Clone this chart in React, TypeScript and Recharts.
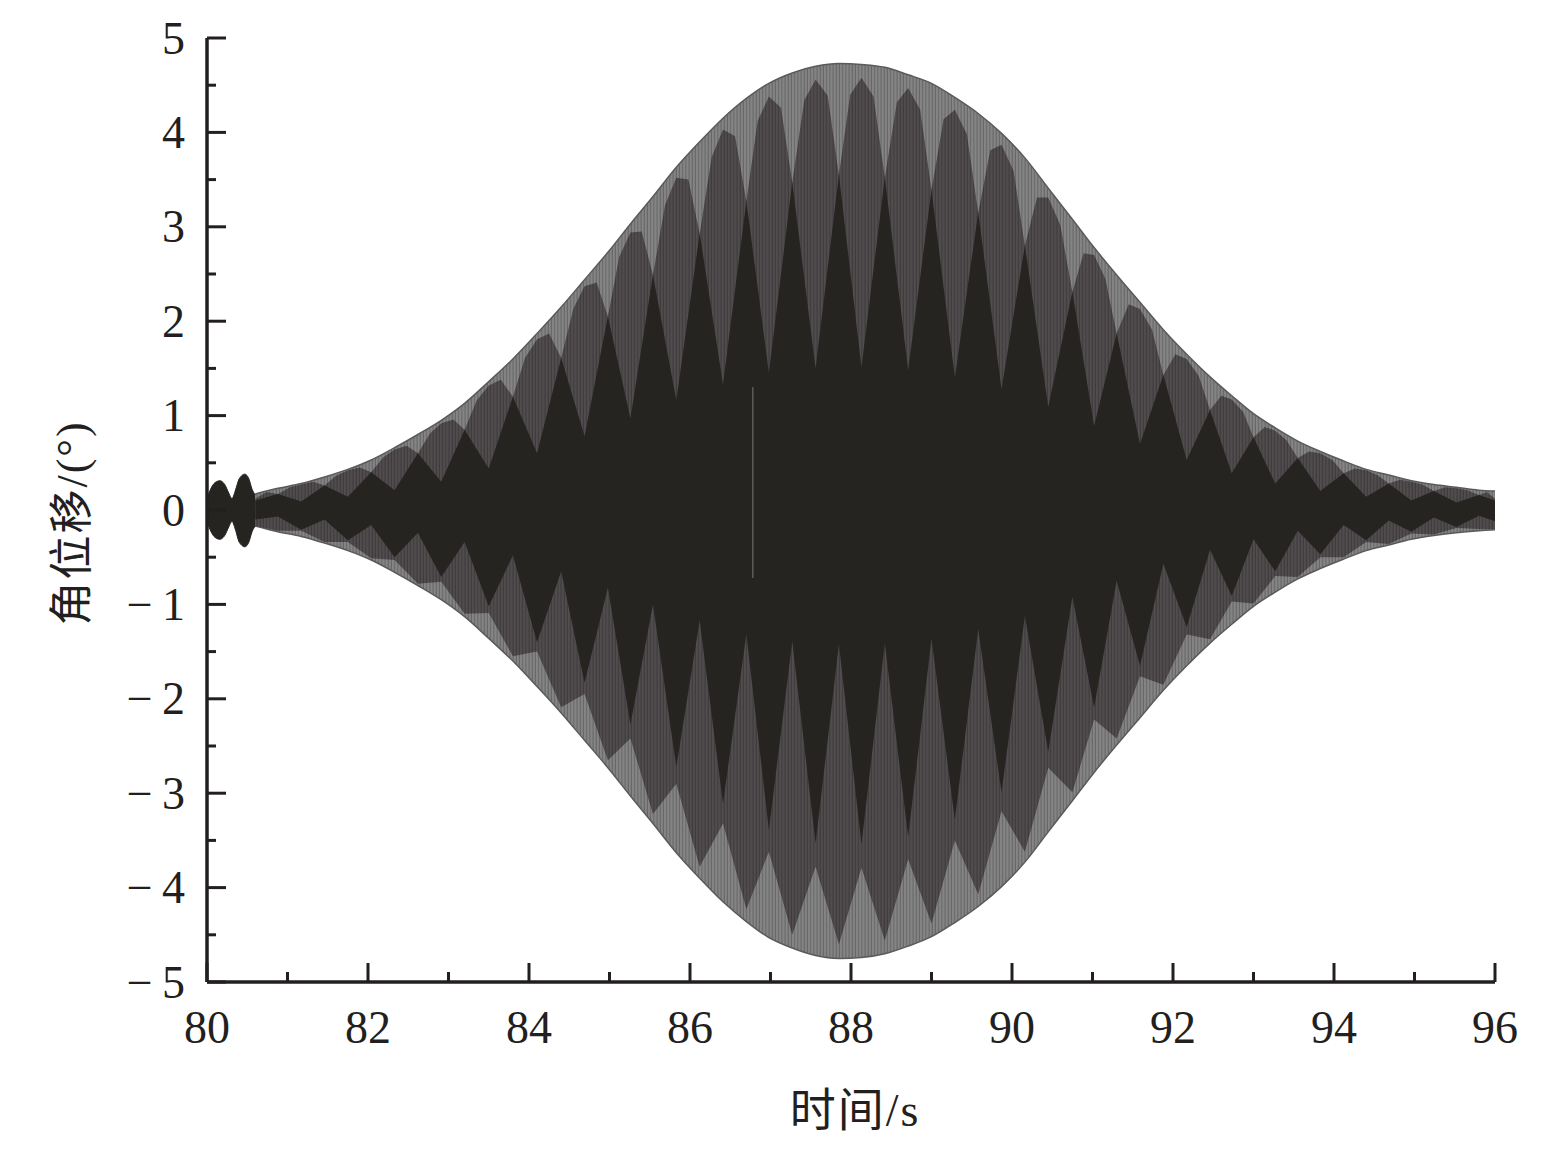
import React from "react";
import {
  ComposedChart,
  Area,
  XAxis,
  YAxis,
  ReferenceLine,
} from "recharts";

// start lobes (80 - 80.6 s), fully dark
const lobeTime = [80.0, 80.05, 80.1, 80.16, 80.22, 80.27, 80.31, 80.35, 80.4, 80.47, 80.52, 80.56, 80.6];
const lobeTop = [0.12, 0.23, 0.29, 0.31, 0.27, 0.18, 0.12, 0.2, 0.33, 0.38, 0.33, 0.22, 0.16];
const lobeBot = [-0.12, -0.23, -0.29, -0.31, -0.27, -0.18, -0.12, -0.2, -0.34, -0.39, -0.34, -0.23, -0.17];

// zigzag vertices (peaks / valleys of the beat pattern)
const vertexTime = [
  80.6, 80.88, 81.17, 81.46, 81.75, 82.04, 82.33, 82.62, 82.91, 83.2, 83.5, 83.8, 84.1, 84.4,
  84.69, 84.98, 85.26, 85.54, 85.83, 86.12, 86.41, 86.7, 86.98, 87.27, 87.56, 87.85, 88.13,
  88.42, 88.71, 89.0, 89.29, 89.58, 89.87, 90.16, 90.45, 90.75, 91.02, 91.3, 91.59, 91.88,
  92.17, 92.46, 92.73, 93.0, 93.27, 93.55, 93.83, 94.12, 94.4, 94.68, 94.96, 95.24, 95.52,
  95.8, 96.0,
];
const envTop = [
  0.17, 0.23, 0.28, 0.35, 0.43, 0.53, 0.66, 0.8, 0.95, 1.13, 1.36, 1.6, 1.87, 2.15, 2.44, 2.73,
  3.03, 3.32, 3.63, 3.9, 4.15, 4.36, 4.52, 4.63, 4.7, 4.73, 4.72, 4.69, 4.61, 4.52, 4.37, 4.2,
  3.99, 3.73, 3.41, 3.08, 2.78, 2.49, 2.2, 1.91, 1.65, 1.41, 1.21, 1.02, 0.87, 0.73, 0.62,
  0.52, 0.43, 0.37, 0.31, 0.27, 0.24, 0.21, 0.2,
];
const envBot = [
  -0.17, -0.23, -0.28, -0.35, -0.43, -0.53, -0.66, -0.8, -0.95, -1.13, -1.36, -1.6, -1.87,
  -2.15, -2.44, -2.73, -3.03, -3.32, -3.63, -3.9, -4.15, -4.36, -4.53, -4.64, -4.72, -4.75,
  -4.74, -4.7, -4.62, -4.52, -4.37, -4.2, -3.99, -3.73, -3.41, -3.08, -2.78, -2.49, -2.2,
  -1.91, -1.65, -1.41, -1.21, -1.02, -0.87, -0.73, -0.62, -0.52, -0.43, -0.37, -0.31, -0.27,
  -0.24, -0.22, -0.21,
];
const midBot = [
  -0.17, -0.22, -0.22, -0.34, -0.34, -0.51, -0.53, -0.78, -0.76, -1.1, -1.09, -1.55, -1.5,
  -2.09, -1.95, -2.65, -2.42, -3.22, -2.9, -3.78, -3.32, -4.23, -3.62, -4.5, -3.78, -4.6,
  -3.79, -4.56, -3.7, -4.38, -3.5, -4.07, -3.19, -3.62, -2.73, -2.99, -2.22, -2.42, -1.76,
  -1.85, -1.32, -1.37, -0.97, -0.99, -0.7, -0.71, -0.5, -0.5, -0.34, -0.36, -0.25, -0.26,
  -0.19, -0.2, -0.2,
];
const coreTop = [
  0.1, 0.17, 0.09, 0.26, 0.14, 0.4, 0.21, 0.6, 0.3, 0.85, 0.44, 1.2, 0.6, 1.61, 0.78, 2.05,
  0.97, 2.49, 1.16, 2.93, 1.33, 3.27, 1.45, 3.47, 1.5, 3.55, 1.51, 3.52, 1.48, 3.39, 1.4, 3.15,
  1.28, 2.8, 1.09, 2.31, 0.89, 1.87, 0.7, 1.43, 0.53, 1.06, 0.39, 0.77, 0.28, 0.55, 0.2, 0.39,
  0.14, 0.28, 0.1, 0.2, 0.08, 0.16, 0.1,
];
const coreBot = [
  -0.1, -0.07, -0.21, -0.1, -0.32, -0.16, -0.5, -0.24, -0.71, -0.34, -1.02, -0.48, -1.4,
  -0.65, -1.83, -0.82, -2.27, -1.0, -2.72, -1.17, -3.11, -1.31, -3.39, -1.39, -3.53, -1.42,
  -3.54, -1.41, -3.46, -1.36, -3.28, -1.26, -2.99, -1.12, -2.56, -0.92, -2.09, -0.75, -1.65,
  -0.57, -1.24, -0.42, -0.91, -0.31, -0.65, -0.22, -0.47, -0.16, -0.32, -0.11, -0.23, -0.08,
  -0.18, -0.06, -0.12,
];

// upper edge of the mid-grey spindles, sampled finer (narrow light "icicles")
const midTopTime = [
  80.6, 80.74, 80.88, 81.03, 81.17, 81.32, 81.46, 81.6, 81.75, 81.9, 82.04, 82.19, 82.33,
  82.48, 82.62, 82.77, 82.91, 83.06, 83.2, 83.35, 83.5, 83.65, 83.8, 83.95, 84.1, 84.25, 84.4,
  84.55, 84.69, 84.84, 84.98, 85.12, 85.26, 85.4, 85.54, 85.69, 85.83, 85.98, 86.12, 86.27,
  86.41, 86.56, 86.7, 86.84, 86.98, 87.13, 87.27, 87.42, 87.56, 87.71, 87.85, 87.99, 88.13,
  88.28, 88.42, 88.57, 88.71, 88.86, 89.0, 89.15, 89.29, 89.44, 89.58, 89.73, 89.87, 90.02,
  90.16, 90.31, 90.45, 90.6, 90.75, 90.89, 91.02, 91.16, 91.3, 91.45, 91.59, 91.74, 91.88,
  92.03, 92.17, 92.32, 92.46, 92.6, 92.73, 92.87, 93.0, 93.14, 93.27, 93.41, 93.55, 93.69,
  93.83, 93.98, 94.12, 94.26, 94.4, 94.54, 94.68, 94.82, 94.96, 95.1, 95.24, 95.38, 95.52,
  95.66, 95.8, 95.9, 96.0,
];
const midTopVal = [
  0.12, 0.19, 0.17, 0.24, 0.27, 0.3, 0.26, 0.36, 0.42, 0.45, 0.4, 0.56, 0.64, 0.68, 0.6, 0.81,
  0.92, 0.96, 0.85, 1.16, 1.32, 1.38, 1.2, 1.61, 1.81, 1.87, 1.61, 2.13, 2.37, 2.41, 2.05, 2.68,
  2.94, 2.95, 2.49, 3.23, 3.52, 3.5, 2.93, 3.74, 4.03, 3.96, 3.27, 4.12, 4.38, 4.26, 3.47, 4.34,
  4.56, 4.39, 3.55, 4.4, 4.58, 4.38, 3.52, 4.32, 4.47, 4.24, 3.39, 4.14, 4.24, 3.98, 3.15, 3.81,
  3.87, 3.59, 2.8, 3.31, 3.31, 3.02, 2.31, 2.72, 2.7, 2.45, 1.87, 2.18, 2.13, 1.91, 1.43, 1.65,
  1.6, 1.42, 1.06, 1.21, 1.17, 1.04, 0.77, 0.88, 0.84, 0.74, 0.55, 0.62, 0.6, 0.53, 0.39, 0.44,
  0.42, 0.37, 0.28, 0.32, 0.3, 0.27, 0.2, 0.24, 0.23, 0.21, 0.16, 0.19, 0.12,
];

// thin streak near 86.8 s
const streakTime = 86.78;
const streakFrom = 1.3;
const streakTo = -0.72;

const xTicks = [80, 81, 82, 83, 84, 85, 86, 87, 88, 89, 90, 91, 92, 93, 94, 95, 96];
const yTicks = [-5, -4.5, -4, -3.5, -3, -2.5, -2, -1.5, -1, -0.5, 0, 0.5, 1, 1.5, 2, 2.5, 3, 3.5, 4, 4.5, 5];

const lobeData = lobeTime.map((t, i) => ({ t, band: [lobeBot[i], lobeTop[i]] }));
const mainData = vertexTime.map((t, i) => ({
  t,
  env: [envBot[i], envTop[i]],
  midLow: [midBot[i], 0],
  core: [coreBot[i], coreTop[i]],
}));
const midTopData = midTopTime.map((t, i) => ({ t, midHigh: [0, midTopVal[i]] }));

const INK = "#231f20";
const SERIF = "Liberation Serif, serif";
const CJK = "Noto Sans CJK SC, sans-serif";
const Y_MARGIN = 22;
const X_MARGIN = 30;

const fmt = (v: number) => (v < 0 ? `\u2212\u2009${Math.abs(v)}` : `${v}`);

const YTick = (props: any) => {
  const { x, y, payload } = props;
  const v = payload.value as number;
  const major = Number.isInteger(v);
  const ax = x + Y_MARGIN;
  return (
    <g>
      <line x1={ax} x2={ax + (major ? 19 : 9)} y1={y} y2={y} stroke={INK} strokeWidth={3} />
      {major && (
        <text x={x} y={y} dy="0.34em" textAnchor="end" fontSize={46} fontFamily={SERIF} fill={INK}>
          {fmt(v)}
        </text>
      )}
    </g>
  );
};

const XTick = (props: any) => {
  const { x, y, payload } = props;
  const v = payload.value as number;
  const major = v % 2 === 0;
  const ay = y - X_MARGIN;
  return (
    <g>
      <line x1={x} x2={x} y1={ay} y2={ay - (major ? 19 : 10)} stroke={INK} strokeWidth={3} />
      {major && (
        <text x={x} y={y} dy="0.68em" textAnchor="middle" fontSize={46} fontFamily={SERIF} fill={INK}>
          {v}
        </text>
      )}
    </g>
  );
};

const bandProps = {
  isAnimationActive: false,
  dot: false,
  activeDot: false,
  fillOpacity: 1,
};

export default function App() {
  return (
    <div style={{ position: "relative", width: 1540, height: 1150, background: "#fff" }}>
      <ComposedChart
        width={1540}
        height={1150}
        margin={{ top: 30, right: 53, bottom: 0, left: 0 }}
      >
        <defs>
          <pattern id="lightStripe" patternUnits="userSpaceOnUse" width={3.2} height={8}>
            <rect width={3.2} height={8} fill="#858585" />
            <rect x={2.1} width={1.1} height={8} fill="#666666" />
          </pattern>
          <pattern id="midStripe" patternUnits="userSpaceOnUse" width={3.2} height={8}>
            <rect width={3.2} height={8} fill="#514c4d" />
            <rect x={2.1} width={1.1} height={8} fill="#3e3a3b" />
          </pattern>
        </defs>
        <XAxis
          type="number"
          dataKey="t"
          domain={[80, 96]}
          allowDataOverflow
          ticks={xTicks}
          interval={0}
          height={176}
          tickSize={0}
          tickMargin={X_MARGIN}
          tick={<XTick />}
          axisLine={{ stroke: INK, strokeWidth: 3.5 }}
        />
        <YAxis
          type="number"
          domain={[-5, 5]}
          allowDataOverflow
          ticks={yTicks}
          interval={0}
          width={199}
          tickSize={0}
          tickMargin={Y_MARGIN}
          tick={<YTick />}
          axisLine={{ stroke: INK, strokeWidth: 3.5 }}
        />
        <Area
          {...bandProps}
          data={mainData}
          dataKey="env"
          type="monotone"
          stroke="#5a5a5a"
          strokeWidth={1.5}
          fill="url(#lightStripe)"
        />
        <Area
          {...bandProps}
          data={midTopData}
          dataKey="midHigh"
          type="linear"
          stroke="none"
          fill="url(#midStripe)"
        />
        <Area
          {...bandProps}
          data={mainData}
          dataKey="midLow"
          type="linear"
          stroke="none"
          fill="url(#midStripe)"
        />
        <Area
          {...bandProps}
          data={mainData}
          dataKey="core"
          type="linear"
          stroke="none"
          fill="#252421"
        />
        <Area
          {...bandProps}
          data={lobeData}
          dataKey="band"
          type="monotone"
          stroke="#252421"
          strokeWidth={1}
          fill="#252421"
        />
        <ReferenceLine
          segment={[
            { x: streakTime, y: streakFrom },
            { x: streakTime, y: streakTo },
          ]}
          stroke="#5c5c5c"
          strokeWidth={1.5}
        />
      </ComposedChart>
      <div
        style={{
          position: "absolute",
          left: 62,
          top: 515,
          transform: "translate(-50%, -50%) rotate(-90deg)",
          whiteSpace: "nowrap",
          fontSize: 44,
          letterSpacing: 2,
          color: INK,
          lineHeight: 1,
        }}
      >
        <span style={{ fontFamily: CJK }}>角位移</span>
        <span style={{ fontFamily: SERIF }}>/(°)</span>
      </div>
      <div
        style={{
          position: "absolute",
          left: 847,
          top: 1100,
          transform: "translate(-50%, -50%)",
          whiteSpace: "nowrap",
          fontSize: 46,
          letterSpacing: 2,
          color: INK,
          lineHeight: 1,
        }}
      >
        <span style={{ fontFamily: CJK }}>时间</span>
        <span style={{ fontFamily: SERIF }}>/s</span>
      </div>
    </div>
  );
}
